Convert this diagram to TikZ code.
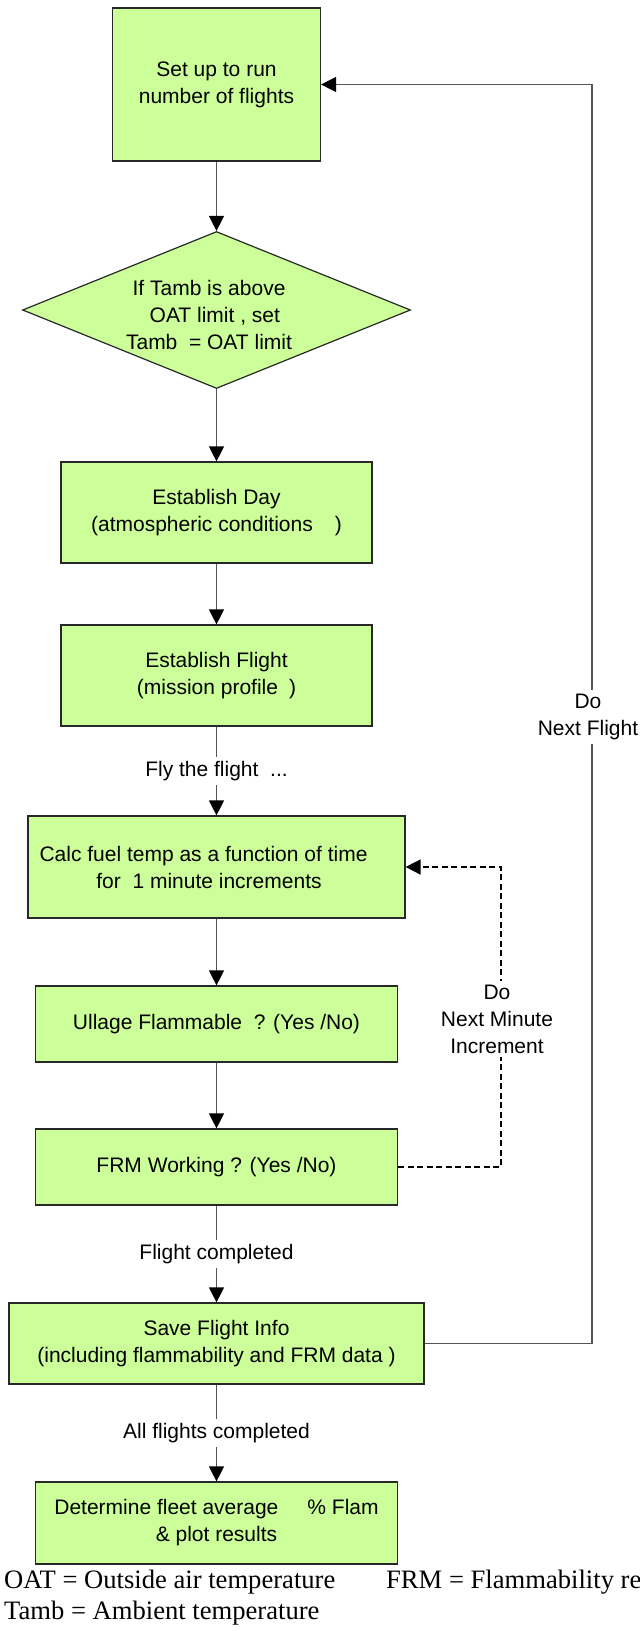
\documentclass[tikz,border=0pt]{standalone}
\usepackage{fontspec}
\setmainfont{Liberation Sans}
\newfontfamily\notefont{Liberation Serif}
\usetikzlibrary{arrows.meta,shapes.geometric,calc}
\definecolor{boxgreen}{RGB}{204,255,153}
\definecolor{edgecol}{RGB}{40,40,40}
\definecolor{linecol}{RGB}{85,85,85}
\begin{document}
\begin{tikzpicture}[x=1pt,y=-1pt,
  bodyfont/.style={font=\fontsize{21}{27}\selectfont},
  box/.style={draw=edgecol,line width=1.2pt,fill=boxgreen,inner sep=0pt,align=center,bodyfont},
  flow/.style={draw=linecol,line width=1.2pt,-{Triangle[length=15pt,width=15pt,color=black]}},
  dflow/.style={draw=black,line width=1.5pt,dash pattern=on 6pt off 3.5pt,-{Triangle[length=15pt,width=15pt,color=black]}},
  lbl/.style={fill=white,inner xsep=2pt,inner ysep=4pt,align=center,bodyfont},
  note/.style={anchor=base west,inner sep=0pt,font=\notefont\fontsize{26.6}{31}\selectfont}]
\useasboundingbox (0,0) rectangle (640,1631);
\fill[white] (0,0) rectangle (640,1631);

\node[box,minimum width=208pt,minimum height=153pt] (setup) at (216.5,84.5) {Set up to run\\number of flights};
\node[draw=edgecol,line width=1.2pt,fill=boxgreen,diamond,minimum width=388pt,minimum height=157pt,inner sep=0pt] (cond) at (216.5,310) {};
\node[align=center,bodyfont,inner sep=0pt] (condtext) at (209,315) {If Tamb is above\\\ \ OAT limit , set\\Tamb\ \ = OAT limit};
\node[box,minimum width=311pt,minimum height=101pt] (day) at (216.5,512.5) {Establish Day\\(atmospheric conditions\hspace{22pt})};
\node[box,minimum width=311pt,minimum height=101pt] (flight) at (216.5,675.5) {Establish Flight\\(mission profile\hspace{11pt})};
\node[box,minimum width=377pt,minimum height=102pt] (calc) at (216.5,867) {Calc fuel temp as a function of time\kern26pt\\for\ \ 1 minute increments\kern15pt};
\node[box,minimum width=362pt,minimum height=76pt] (ullage) at (216.5,1024) {Ullage Flammable\ \ ? (Yes /No)};
\node[box,minimum width=362pt,minimum height=76pt] (frm) at (216.5,1167) {FRM Working ? (Yes /No)};
\node[box,minimum width=415pt,minimum height=81pt] (save) at (216.5,1343.5) {Save Flight Info\\(including flammability and FRM data )};
\node[box,minimum width=362pt,minimum height=82pt] (final) at (216.5,1523) {Determine fleet average\hspace{29pt}\% Flam\\\& plot results};

\draw[flow] (setup) -- (cond);
\draw[flow] (cond) -- (day);
\draw[flow] (day) -- (flight);
\draw[flow] (flight) -- node[lbl] (flylbl) {Fly the flight\ \ ...} (calc);
\draw[flow] (calc) -- (ullage);
\draw[flow] (ullage) -- (frm);
\draw[flow] (frm) -- node[lbl] (fclbl) {Flight completed} (save);
\draw[flow] (save) -- node[lbl] (aflbl) {All flights completed} (final);

\coordinate (fbbot) at (592,1343.5);
\coordinate (fbtop) at (592,84.5);
\draw[flow] (save.east) -- (fbbot) -- (fbtop) -- (setup.east);
\node[lbl] (nextflight) at (588,717) {Do\\Next Flight};

\coordinate (dmbot) at (501,1167);
\coordinate (dmtop) at (501,867);
\draw[dflow] (frm.east) -- (dmbot) -- (dmtop) -- (calc.east);
\node[lbl] (nextmin) at (497,1019) {Do\\Next Minute\\Increment};

\node[note] (oat) at (4,1588) {OAT = Outside air temperature};
\node[note] (frmnote) at (386,1588) {FRM = Flammability re};
\node[note] (tamb) at (4,1619) {Tamb = Ambient temperature};
\end{tikzpicture}
\end{document}
